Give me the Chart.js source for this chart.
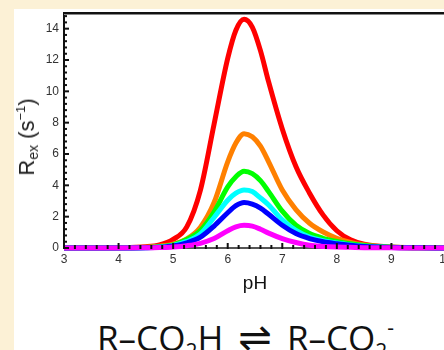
<!DOCTYPE html>
<html>
<head>
<meta charset="utf-8">
<script src="https://cdn.jsdelivr.net/npm/chart.js@4.4.1/dist/chart.umd.min.js"></script>
<style>
  body { margin: 0; width: 444px; height: 350px; overflow: hidden; position: relative; background: #fcf1d6; }
  #panel { position: absolute; left: 14px; top: 9px; width: 440px; height: 350px; background: #fff; }
  #wrap { position: absolute; left: 0; top: 0; width: 470px; height: 295px; }
  #ylab { position: absolute; left: 27px; top: 137px; transform: translate(-50%, -50%) rotate(-90deg);
          font: 22px "Liberation Sans", Arial, sans-serif; color: #222; white-space: nowrap; }
  #ylab sub { font-size: 14px; vertical-align: -4px; }
  #ylab sup { font-size: 13px; vertical-align: 9px; }
  #eq { position: absolute; left: 97px; top: 314px; font: 35px "Open Sans", sans-serif; line-height: 1;
        color: #111; white-space: nowrap; }
  #eq sub { font-size: 21px; vertical-align: -8px; }
  #eq sup { font-size: 21px; vertical-align: 16px; }
  #eq .arr { font: 40px "DejaVu Sans", sans-serif; margin: 0 6px; }
</style>
</head>
<body>
<div id="panel"></div>
<div id="wrap"><canvas id="rexChart"></canvas></div>
<div id="ylab">R<sub>ex</sub> (s<sup>−1</sup>)</div>
<div id="eq">R–CO<sub>2</sub>H <span class="arr">⇌</span> R–CO<sub>2</sub><sup>-</sup></div>
<script>
// pH grid the curves were read at
const ph = [3, 4, 4.5, 4.75, 5, 5.25, 5.5, 5.75, 6, 6.15, 6.3, 6.45, 6.6, 6.75, 7, 7.25, 7.5, 7.75, 8, 8.25, 8.5, 9, 9.5, 10];

// Rex values (s^-1), one array per curve
const redRex     = [0, 0.02, 0.08, 0.2, 0.55, 1.35, 3.7, 7.9, 12.1, 13.9, 14.6, 14.1, 12.6, 10.6, 7.6, 5.2, 3.5, 2.1, 1.1, 0.52, 0.24, 0.06, 0.01, 0];
const orangeRex  = [0, 0.01, 0.05, 0.12, 0.25, 0.58, 1.33, 2.9, 5.5, 6.7, 7.3, 7.1, 6.5, 5.5, 3.7, 2.45, 1.58, 1.02, 0.62, 0.36, 0.2, 0.06, 0.015, 0];
const greenRex   = [0, 0, 0.03, 0.08, 0.2, 0.55, 1.12, 2.3, 3.9, 4.55, 4.9, 4.75, 4.3, 3.6, 2.35, 1.45, 0.92, 0.62, 0.42, 0.27, 0.16, 0.05, 0.01, 0];
const cyanRex    = [0, 0, 0.02, 0.06, 0.16, 0.42, 0.9, 1.95, 3.05, 3.5, 3.7, 3.6, 3.2, 2.75, 1.8, 1.12, 0.7, 0.47, 0.32, 0.2, 0.12, 0.04, 0.01, 0];
const blueRex    = [0, 0, 0.02, 0.05, 0.13, 0.33, 0.69, 1.4, 2.25, 2.7, 2.9, 2.8, 2.55, 2.15, 1.45, 0.92, 0.6, 0.4, 0.27, 0.17, 0.1, 0.03, 0.01, 0];
const magentaRex = [0, 0, 0.01, 0.03, 0.07, 0.15, 0.3, 0.6, 1.1, 1.35, 1.45, 1.4, 1.2, 0.95, 0.6, 0.35, 0.17, 0.1, 0.06, 0.04, 0.02, 0.01, 0, 0];

const series = [
  { values: magentaRex, color: '#ff00ff' },
  { values: blueRex, color: '#0000ff' },
  { values: cyanRex, color: '#00ffff' },
  { values: greenRex, color: '#00ff00' },
  { values: orangeRex, color: '#ff8000' },
  { values: redRex, color: '#ff0000' }
];

// inward tick marks + top frame line
const frameTicks = {
  id: 'frameTicks',
  afterDraw(chart) {
    const { ctx, chartArea: a, scales: { x, y } } = chart;
    ctx.save();
    ctx.strokeStyle = '#111';
    ctx.lineWidth = 2;
    ctx.beginPath();
    ctx.moveTo(a.left - 1, a.top);
    ctx.lineTo(a.right + 30, a.top);
    ctx.stroke();
    ctx.strokeStyle = '#888';
    ctx.lineWidth = 1;
    ctx.beginPath();
    ctx.moveTo(a.left, a.top + 1.5);
    ctx.lineTo(a.right + 30, a.top + 1.5);
    ctx.stroke();

    ctx.strokeStyle = '#111';
    ctx.lineWidth = 2;
    for (let i = 0; i <= 35; i++) {
      const px = x.getPixelForValue(3 + i * 0.2);
      const len = i % 5 === 0 ? 5 : 3;
      ctx.beginPath();
      ctx.moveTo(px, a.bottom + 1);
      ctx.lineTo(px, a.bottom - len);
      ctx.stroke();
    }
    for (let i = 0; i <= 37; i++) {
      const py = y.getPixelForValue(i * 0.4);
      const len = i % 5 === 0 ? 5 : 3;
      ctx.beginPath();
      ctx.moveTo(a.left - 1, py);
      ctx.lineTo(a.left + len, py);
      ctx.stroke();
    }
    ctx.restore();
  }
};

const ctx = document.getElementById('rexChart').getContext('2d');
new Chart(ctx, {
  type: 'line',
  data: {
    datasets: series.map(s => ({
      data: ph.map((p, i) => ({ x: p, y: s.values[i] })),
      borderColor: s.color,
      borderWidth: 5,
      pointRadius: 0,
      fill: false,
      cubicInterpolationMode: 'monotone',
      clip: 4
    }))
  },
  options: {
    responsive: true,
    maintainAspectRatio: false,
    animation: false,
    layout: { padding: { top: 13, right: 24, left: 0, bottom: 0 } },
    plugins: { legend: { display: false }, tooltip: { enabled: false } },
    scales: {
      x: {
        type: 'linear',
        min: 3,
        max: 10,
        grid: { display: false, drawTicks: false },
        border: { display: true, color: '#555', width: 2 },
        ticks: {
          stepSize: 1,
          padding: 4,
          color: '#333',
          font: { family: 'Liberation Sans', size: 12 }
        },
        title: {
          display: true,
          text: 'pH',
          color: '#111',
          padding: 0,
          font: { family: 'Liberation Sans', size: 19 }
        },
        afterFit: scale => { scale.height = 47; }
      },
      y: {
        min: 0,
        max: 15,
        grid: { display: false, drawTicks: false },
        border: { display: true, color: '#111', width: 2 },
        ticks: {
          stepSize: 2,
          padding: 5,
          color: '#333',
          font: { family: 'Liberation Sans', size: 12 },
          callback: v => (v % 2 === 0 ? v : '')
        },
        afterFit: scale => { scale.width = 64; }
      }
    }
  },
  plugins: [frameTicks]
});
</script>
</body>
</html>
